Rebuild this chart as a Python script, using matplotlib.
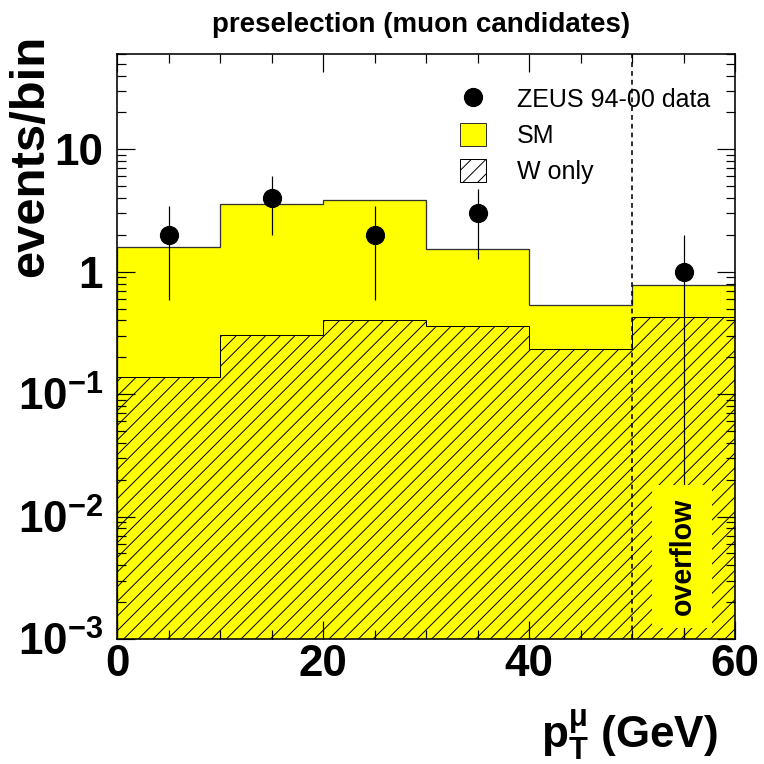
import numpy as np
import matplotlib
matplotlib.use("Agg")
import matplotlib.pyplot as plt
from matplotlib.patches import Patch, Rectangle
from matplotlib.lines import Line2D
from matplotlib.ticker import MultipleLocator, FixedLocator, LogLocator, NullFormatter, FuncFormatter

DPI = 88


def pt(px):
    """pixel size -> points at the chosen dpi"""
    return px * 72.0 / DPI


# histogram contents (events/bin), last bin is the overflow
bin_edges = [0, 10, 20, 30, 40, 50, 60]
sm_events = [1.58, 3.58, 3.88, 1.52, 0.53, 0.78]
w_events = [0.137, 0.306, 0.40, 0.36, 0.235, 0.43]

# ZEUS data points
data_x = [5, 15, 25, 35, 55]
data_counts = [2, 4, 2, 3, 1]

y_major = [1e-3, 1e-2, 1e-1, 1, 10]

plt.rcParams['font.family'] = ['Liberation Sans', 'DejaVu Sans']
plt.rcParams['font.weight'] = 'bold'
plt.rcParams['mathtext.fontset'] = 'custom'
plt.rcParams['mathtext.bf'] = 'Liberation Sans:bold'
plt.rcParams['mathtext.rm'] = 'Liberation Sans:bold'
plt.rcParams['mathtext.it'] = 'Liberation Sans'
plt.rcParams['mathtext.default'] = 'bf'
plt.rcParams['hatch.linewidth'] = 0.8

fig = plt.figure(figsize=(764 / DPI, 764 / DPI), dpi=DPI)
ax = fig.add_axes([117 / 764, 125 / 764, 618 / 764, 585 / 764])

yellow = '#ffff00'
ax.stairs(sm_events, bin_edges, baseline=1e-6, fill=True, facecolor=yellow,
          edgecolor='#333333', linewidth=pt(1.3), zorder=1)
ax.stairs(w_events, bin_edges, baseline=1e-6, fill=True, facecolor='none',
          edgecolor='black', hatch='//', linewidth=pt(1.0), zorder=2)

counts = np.array(data_counts, dtype=float)
err = np.sqrt(counts)
err_lo = np.minimum(err, counts * 0.99999)
ax.errorbar(data_x, counts, yerr=[err_lo, err], fmt='o', color='black',
            markersize=pt(18), elinewidth=pt(1.2), capsize=0, zorder=4)

ax.axvline(50, color='black', linestyle=(0, (3, 2.5)), linewidth=pt(1.6), zorder=3)

# overflow label box
ax.add_patch(Rectangle((0.866, 0.019), 0.097, 0.245, transform=ax.transAxes,
                       facecolor=yellow, edgecolor='none', zorder=5))
ax.text(0.915, 0.141, 'overflow', transform=ax.transAxes, rotation=90,
        ha='center', va='center', fontsize=pt(28.5), fontweight='bold', zorder=6)

ax.set_yscale('log')
ax.set_xlim(0, 60)
ax.set_ylim(1e-3, 60)

ax.xaxis.set_major_locator(MultipleLocator(20))
ax.xaxis.set_minor_locator(MultipleLocator(5))
ax.yaxis.set_major_locator(FixedLocator(y_major))
ax.yaxis.set_minor_locator(LogLocator(base=10, subs=np.arange(2, 10), numticks=30))
ax.yaxis.set_minor_formatter(NullFormatter())


def ylab(v, pos):
    if v >= 1:
        return '%d' % round(v)
    return r'$10^{%d}$' % round(np.log10(v))


ax.yaxis.set_major_formatter(FuncFormatter(ylab))

ax.tick_params(which='both', direction='in', top=True, right=True, width=pt(1.2))
ax.tick_params(which='major', length=pt(18))
ax.tick_params(which='minor', length=pt(9))
ax.tick_params(axis='x', labelsize=pt(44), pad=pt(5))
ax.tick_params(axis='y', labelsize=pt(44), pad=pt(14))
for s in ax.spines.values():
    s.set_linewidth(pt(1.6))

handles = [
    Line2D([], [], marker='o', color='black', linestyle='none', markersize=pt(18)),
    Patch(facecolor=yellow, edgecolor='#333333', linewidth=pt(1.0)),
    Patch(facecolor='white', edgecolor='black', hatch='//', linewidth=pt(1.0)),
]
ax.legend(handles, ['ZEUS 94-00 data', 'SM', 'W only'], loc='upper left',
          bbox_to_anchor=(460 / 764, 1 - 87 / 764), bbox_transform=fig.transFigure,
          frameon=False, borderpad=0, borderaxespad=0, handlelength=1.04,
          handleheight=1.04, handletextpad=1.24, labelspacing=0.44,
          prop={'family': 'Liberation Sans', 'weight': 'normal', 'size': pt(25)})

fig.text(421.5 / 764, 1 - 25 / 764, 'preselection (muon candidates)',
         ha='center', va='center', fontsize=pt(27.7), fontweight='bold')
fig.text(8 / 764, 1 - 35 / 764, 'events/bin', rotation=90, ha='left', va='top',
         fontsize=pt(49), fontweight='bold')
fig.text(718 / 764, 1 - 748 / 764, r'$p_{T}^{\mathit{\mu}}$ (GeV)', ha='right',
         va='baseline', fontsize=pt(44), fontweight='bold')

fig.savefig('out.png', dpi=DPI)
